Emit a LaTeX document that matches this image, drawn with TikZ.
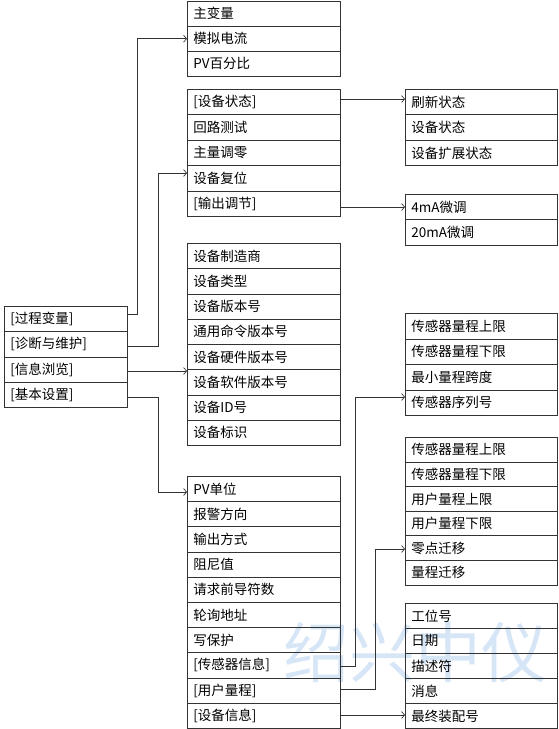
\documentclass[tikz,border=0pt]{standalone}
\usepackage{fontspec}
\setmainfont{Noto Sans CJK SC}
\usetikzlibrary{arrows.meta}
\definecolor{linec}{HTML}{333333}
\definecolor{wmc}{HTML}{D6E6F7}
\newcommand{\rowbox}[6]{%
  \foreach \txt [count=\i] in {#6} {
    \node[cell,#5,minimum height=#4pt] (#1\i) at ({#2},{#3+(\i-1)*#4}) {\txt};
  }}
\tikzset{
  cell/.style={draw=linec, line width=0.8pt, anchor=north west, inner xsep=6pt,
    inner ysep=0pt, align=left, text=black, font=\fontsize{13.5}{15}\selectfont},
  rootw/.style={minimum width=123pt, text width=111pt},
  bw/.style={minimum width=153pt, text width=141pt},
  cw/.style={minimum width=152pt, text width=140pt},
  conn/.style={draw=linec, line width=0.7pt, -{Straight Barb[length=3pt,width=7pt]}},
  wm/.style={text=wmc, font=\fontsize{66}{66}\selectfont, inner sep=0pt}
}
\begin{document}
\begin{tikzpicture}[x=1pt,y=-1pt]
\useasboundingbox (0,0) rectangle (558,729);
\node[wm] (wmark) at (415,652) {绍兴中仪};
\rowbox{A}{4}{306}{25.25}{rootw}{[过程变量],[诊断与维护],[信息浏览],[基本设置]}
\rowbox{P}{187}{0.5}{25.2}{bw}{主变量,模拟电流,PV百分比}
\rowbox{D}{187}{89}{25.4}{bw}{[设备状态],回路测试,主量调零,设备复位,[输出调节]}
\rowbox{I}{187}{243}{25.25}{bw}{设备制造商,设备类型,设备版本号,通用命令版本号,设备硬件版本号,设备软件版本号,设备ID号,设备标识}
\rowbox{S}{187}{476}{25.2}{bw}{PV单位,报警方向,输出方式,阻尼值,请求前导符数,轮询地址,写保护,[传感器信息],[用户量程],[设备信息]}
\rowbox{T}{405}{89}{25.4}{cw}{刷新状态,设备状态,设备扩展状态}
\rowbox{M}{405}{194}{25.3}{cw}{4mA微调,20mA微调}
\rowbox{E}{405}{313}{25.5}{cw}{传感器量程上限,传感器量程下限,最小量程跨度,传感器序列号}
\rowbox{U}{405}{437}{24.6}{cw}{传感器量程上限,传感器量程下限,用户量程上限,用户量程下限,零点迁移,量程迁移}
\rowbox{F}{405}{603}{25}{cw}{工位号,日期,描述符,消息,最终装配号}
\draw[conn] (A1.east |- 0,314) -- (137,314) |- (P2.west);
\draw[conn] (A2.east |- 0,346) -- (158,346) |- (D4.west |- 0,173);
\draw[conn] (A3.east |- 0,371) -- (I6.west |- 0,371);
\draw[conn] (A4.east |- 0,397) -- (158,397) |- (S1.west |- 0,492);
\draw[conn] (D1.east |- 0,99) -- (T1.west |- 0,99);
\draw[conn] (D5.east |- 0,207) -- (M1.west |- 0,207);
\draw[conn] (S8.east |- 0,666) -- (355,666) |- (E4.west |- 0,397);
\draw[conn] (S9.east |- 0,689) -- (375,689) |- (U5.west |- 0,549);
\draw[conn] (S10.east |- 0,715) -- (F5.west |- 0,715);
\end{tikzpicture}
\end{document}
